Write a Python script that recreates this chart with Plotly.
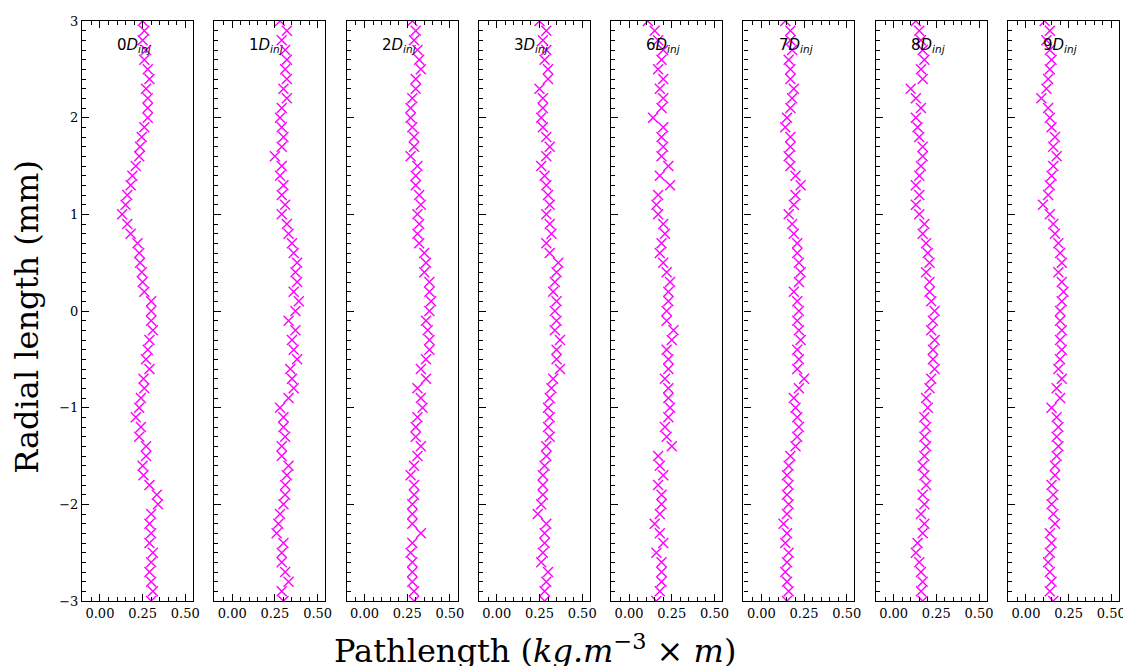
import plotly.graph_objects as go
from plotly.subplots import make_subplots

radial = [round(3.0 - 0.1 * i, 1) for i in range(61)]

labels = ["0", "1", "2", "3", "6", "7", "8", "9"]

d0 = [0.25, 0.26, 0.25, 0.27, 0.26, 0.28, 0.29, 0.27, 0.28, 0.28, 0.28, 0.26, 0.245, 0.235, 0.23, 0.21,
      0.19, 0.18, 0.16, 0.15, 0.13, 0.16, 0.18, 0.22, 0.23, 0.235, 0.245, 0.25, 0.26, 0.30,
      0.30, 0.30, 0.31, 0.29, 0.28, 0.27, 0.29, 0.255, 0.26, 0.24, 0.23, 0.21, 0.24, 0.23,
      0.27, 0.27, 0.25, 0.255, 0.29, 0.333, 0.34, 0.30, 0.29, 0.30, 0.29, 0.31, 0.30, 0.29,
      0.30, 0.31, 0.30]
d1 = [0.28, 0.32, 0.29, 0.31, 0.32, 0.31, 0.32, 0.30, 0.32, 0.29, 0.28, 0.29, 0.30, 0.29, 0.25, 0.29,
      0.28, 0.30, 0.29, 0.31, 0.29, 0.32, 0.33, 0.35, 0.36, 0.38, 0.37, 0.38, 0.36, 0.39,
      0.37, 0.33, 0.37, 0.35, 0.36, 0.38, 0.34, 0.35, 0.36, 0.33, 0.28, 0.30, 0.30, 0.31,
      0.29, 0.29, 0.33, 0.32, 0.31, 0.31, 0.30, 0.28, 0.27, 0.26, 0.30, 0.29, 0.29, 0.31,
      0.33, 0.29, 0.30]
d2 = [0.28, 0.30, 0.29, 0.31, 0.32, 0.33, 0.30, 0.30, 0.28, 0.27, 0.27, 0.28, 0.29, 0.29, 0.27, 0.31,
      0.30, 0.30, 0.32, 0.33, 0.31, 0.32, 0.31, 0.32, 0.35, 0.36, 0.35, 0.38, 0.38, 0.39,
      0.38, 0.36, 0.37, 0.38, 0.38, 0.36, 0.33, 0.36, 0.31, 0.33, 0.34, 0.31, 0.30, 0.30,
      0.33, 0.31, 0.29, 0.27, 0.29, 0.29, 0.28, 0.28, 0.28, 0.33, 0.28, 0.27, 0.28, 0.28,
      0.28, 0.29, 0.29]
d3 = [0.25, 0.29, 0.27, 0.29, 0.28, 0.30, 0.30, 0.25, 0.27, 0.27, 0.26, 0.27, 0.29, 0.31, 0.29, 0.26,
      0.28, 0.29, 0.30, 0.31, 0.29, 0.31, 0.32, 0.29, 0.31, 0.36, 0.35, 0.34, 0.33, 0.35,
      0.34, 0.35, 0.34, 0.37, 0.35, 0.35, 0.37, 0.33, 0.32, 0.31, 0.30, 0.31, 0.30, 0.31,
      0.29, 0.29, 0.28, 0.27, 0.27, 0.27, 0.26, 0.24, 0.29, 0.28, 0.28, 0.27, 0.26, 0.30,
      0.29, 0.28, 0.28]
d6 = [0.11, 0.15, 0.17, 0.20, 0.19, 0.17, 0.20, 0.18, 0.20, 0.19, 0.14, 0.20, 0.19, 0.20, 0.19, 0.23,
      0.18, 0.24, 0.17, 0.16, 0.17, 0.20, 0.21, 0.19, 0.18, 0.20, 0.22, 0.24, 0.23, 0.23,
      0.22, 0.22, 0.26, 0.25, 0.22, 0.23, 0.23, 0.21, 0.23, 0.23, 0.24, 0.23, 0.21, 0.22,
      0.25, 0.17, 0.18, 0.20, 0.17, 0.19, 0.19, 0.18, 0.15, 0.18, 0.20, 0.16, 0.19, 0.19,
      0.19, 0.18, 0.16]
d7 = [0.14, 0.17, 0.17, 0.18, 0.16, 0.17, 0.17, 0.19, 0.18, 0.17, 0.15, 0.14, 0.17, 0.17, 0.16, 0.17,
      0.20, 0.23, 0.20, 0.19, 0.16, 0.18, 0.19, 0.21, 0.21, 0.22, 0.23, 0.22, 0.19, 0.21,
      0.22, 0.21, 0.22, 0.23, 0.21, 0.22, 0.21, 0.25, 0.22, 0.19, 0.20, 0.21, 0.22, 0.21,
      0.20, 0.17, 0.16, 0.15, 0.16, 0.15, 0.16, 0.15, 0.13, 0.15, 0.14, 0.16, 0.15, 0.14,
      0.15, 0.16, 0.15]
d8 = [0.13, 0.15, 0.16, 0.17, 0.18, 0.16, 0.17, 0.10, 0.13, 0.16, 0.13, 0.14, 0.15, 0.17, 0.17, 0.16,
      0.15, 0.13, 0.15, 0.13, 0.15, 0.18, 0.17, 0.19, 0.20, 0.21, 0.19, 0.21, 0.21, 0.22,
      0.24, 0.23, 0.22, 0.24, 0.23, 0.23, 0.24, 0.22, 0.21, 0.19, 0.20, 0.18, 0.19, 0.18,
      0.19, 0.18, 0.17, 0.18, 0.19, 0.17, 0.18, 0.16, 0.18, 0.17, 0.14, 0.13, 0.15, 0.16,
      0.17, 0.16, 0.17]
d9 = [0.11, 0.14, 0.12, 0.14, 0.15, 0.14, 0.13, 0.12, 0.09, 0.13, 0.14, 0.15, 0.17, 0.16, 0.18, 0.16,
      0.15, 0.14, 0.13, 0.10, 0.14, 0.16, 0.17, 0.19, 0.20, 0.21, 0.19, 0.21, 0.22, 0.21,
      0.20, 0.20, 0.21, 0.20, 0.21, 0.20, 0.19, 0.21, 0.18, 0.20, 0.15, 0.18, 0.19, 0.18,
      0.19, 0.18, 0.17, 0.17, 0.15, 0.16, 0.15, 0.16, 0.17, 0.14, 0.15, 0.14, 0.13, 0.14,
      0.15, 0.14, 0.16]

series = [d0, d1, d2, d3, d6, d7, d8, d9]

# page body has an 8px margin
W, H = 1123, 658
ML, MR, MT, MB = 74, 12, 13, 65
plot_w = W - ML - MR
plot_h = H - MT - MB
pw = 111
gap = (plot_w - 8 * pw) / 7

fig = make_subplots(rows=1, cols=8, horizontal_spacing=gap / plot_w, shared_yaxes=False)

serif = "DejaVu Serif"
for i, (lab, vals) in enumerate(zip(labels, series)):
    fig.add_trace(go.Scatter(
        x=vals, y=radial, mode="markers",
        marker=dict(symbol="x-thin", size=10, color="#ff00ff",
                    line=dict(color="#ff00ff", width=1.4)),
        showlegend=False), row=1, col=i + 1)
    xa = "x" if i == 0 else f"x{i+1}"
    fig.add_annotation(
        text=f"{lab}<i>D</i><sub><i>inj</i></sub>",
        xref=f"{xa} domain", yref="paper",
        x=0.47, y=0.958, xanchor="center", yanchor="middle",
        showarrow=False, font=dict(family="DejaVu Sans", size=15, color="black"))

fig.update_xaxes(
    range=[-0.105, 0.545], tickvals=[0, 0.25, 0.5], ticktext=["0.00", "0.25", "0.50"],
    ticks="inside", ticklen=7, tickwidth=1.2, tickcolor="black",
    minor=dict(dtick=0.05, tick0=0, ticks="inside", ticklen=4, tickcolor="black", tickwidth=1),
    showline=True, linecolor="black", linewidth=1.2, mirror="ticks",
    showgrid=False, zeroline=False, automargin=False, ticklabeloverflow="allow",
    tickfont=dict(family=serif, size=13, color="black"))
fig.update_yaxes(
    range=[-3, 3], tickvals=[-3, -2, -1, 0, 1, 2, 3],
    ticks="inside", ticklen=7, tickwidth=1.2, tickcolor="black",
    minor=dict(dtick=0.1, tick0=0, ticks="inside", ticklen=4, tickcolor="black", tickwidth=1),
    showline=True, linecolor="black", linewidth=1.2, mirror=True,
    showgrid=False, zeroline=False, showticklabels=False, automargin=False,
    tickfont=dict(family=serif, size=13, color="black"))
fig.update_yaxes(showticklabels=True, row=1, col=1)

fig.add_annotation(text="Radial length (mm)", xref="paper", yref="paper",
                   x=(19 - ML) / plot_w, y=0.49, textangle=-90, showarrow=False,
                   xanchor="center", yanchor="middle",
                   font=dict(family=serif, size=32, color="black"))
fig.add_annotation(text="Pathlength (<i>kg.m</i><sup>−3</sup> × <i>m</i>)",
                   xref="paper", yref="paper",
                   x=(527 - ML) / plot_w, y=-(641 - (H - MB)) / plot_h,
                   showarrow=False, xanchor="center", yanchor="middle",
                   font=dict(family=serif, size=32, color="black"))

fig.update_layout(width=W, height=H, margin=dict(l=ML, r=MR, t=MT, b=MB),
                  plot_bgcolor="white", paper_bgcolor="white")
fig.write_html("out.html")
